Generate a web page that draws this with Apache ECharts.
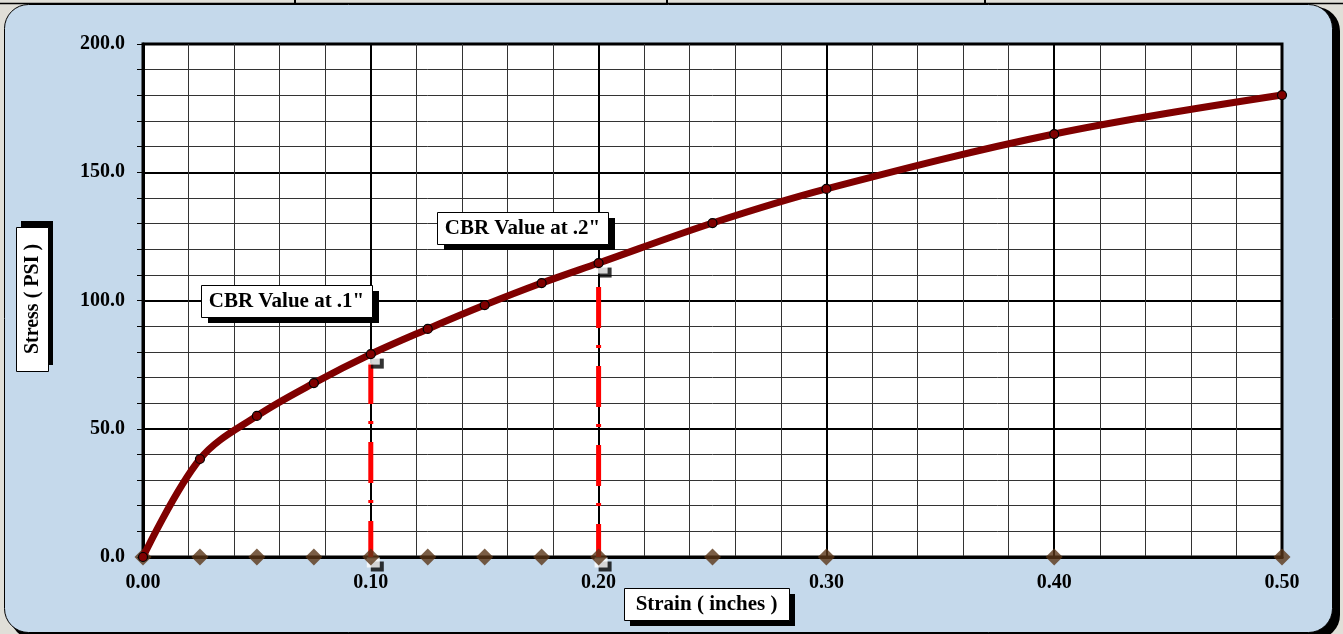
<!DOCTYPE html>
<html>
<head>
<meta charset="utf-8">
<script src="https://cdn.jsdelivr.net/npm/echarts@6/dist/echarts.min.js"></script>
<style>html,body{margin:0;padding:0;background:#e0dfd8;}#chart{width:1343px;height:634px;}</style>
</head>
<body>
<div id="chart"></div>
<script>
// ---- data ----
const strain = [0, 0.025, 0.05, 0.075, 0.1, 0.125, 0.15, 0.175, 0.2, 0.25, 0.3, 0.4, 0.5];
const stress = [0, 38.2, 55.0, 67.8, 79.1, 88.9, 98.2, 106.8, 114.6, 130.2, 143.5, 164.9, 180.1];
const baseX = [0, 0.025, 0.05, 0.075, 0.1, 0.125, 0.15, 0.175, 0.2, 0.25, 0.3, 0.4, 0.5];
const baseY = [0, 0, 0, 0, 0, 0, 0, 0, 0, 0, 0, 0, 0];
const cbrStrain = [0.1, 0.2];
const cbrStress = [79.1, 114.6];
const xTitle = 'Strain ( inches )';
const yTitle = 'Stress ( PSI )';
const cbrLabels = ['CBR Value at .1"', 'CBR Value at .2"'];

const FONT = 'Liberation Serif';
const curveData = strain.map((x, i) => [x, stress[i]]);
const baseData = baseX.map((x, i) => [x, baseY[i]]);
const boxPts = [];
cbrStrain.forEach((x, i) => { boxPts.push([x, cbrStress[i]]); boxPts.push([x, 0]); });

function labelBox(x, y, w, h, sx, sy, text, rot, fs) {
  return [
    {type: 'rect', shape: {x: x + sx, y: y + sy, width: w, height: h}, style: {fill: '#000'}, z: 100},
    {type: 'rect', shape: {x: x + 0.5, y: y + 0.5, width: w, height: h}, style: {fill: '#fff', stroke: '#000', lineWidth: 1}, z: 101},
    {type: 'text', x: x + w / 2 + (rot ? 1 : 0), y: y + h / 2 + (rot ? 0 : 1), rotation: rot || 0, z: 102,
      style: {text: text, fill: '#000', fontSize: fs, fontWeight: 'bold', fontFamily: FONT, align: 'center', verticalAlign: 'middle'}}
  ];
}

const chart = echarts.init(document.getElementById('chart'));
const redLines = cbrStrain.map((x, i) => ({
  type: 'line', data: [[x, cbrStress[i]], [x, 0]], symbol: 'none', z: 3, silent: true,
  lineStyle: {color: '#ff0000', width: 5, type: [41, 17, 3, 18], dashOffset: i === 0 ? 70 : 55, cap: 'butt'}
}));

chart.setOption({
  backgroundColor: '#e0dfd8',
  animation: false,
  graphic: [
    {type: 'line', shape: {x1: 0, y1: 3.5, x2: 1343, y2: 3.5}, style: {stroke: '#000', lineWidth: 1.5}, z: -100},
    {type: 'line', shape: {x1: 295, y1: 0, x2: 295, y2: 4}, style: {stroke: '#000', lineWidth: 2}, z: -100},
    {type: 'line', shape: {x1: 667, y1: 0, x2: 667, y2: 4}, style: {stroke: '#000', lineWidth: 2}, z: -100},
    {type: 'line', shape: {x1: 985, y1: 0, x2: 985, y2: 4}, style: {stroke: '#000', lineWidth: 2}, z: -100},
    {type: 'rect', shape: {x: 10, y: 7, width: 1330, height: 632, r: 24}, style: {fill: '#000'}, z: -99},
    {type: 'rect', shape: {x: 4.5, y: 4.5, width: 1328, height: 628, r: 24}, style: {fill: '#c5d9eb', stroke: '#000', lineWidth: 1}, z: -98},
    ...labelBox(624, 588, 165, 32, 6, 6, xTitle, 0, 21),
    ...labelBox(16, 227, 32, 144, 5, -6, yTitle, Math.PI / 2, 20),
    ...labelBox(201, 285, 171, 32, 7, 6, cbrLabels[0], 0, 21),
    ...labelBox(437, 212, 171, 32, 7, 6, cbrLabels[1], 0, 21)
  ],
  grid: {left: 143, right: 61, top: 44, bottom: 77, show: true, backgroundColor: '#fff', borderColor: '#000', borderWidth: 3},
  xAxis: {
    type: 'value', min: 0, max: 0.5, interval: 0.1,
    axisLine: {show: true, onZero: false, lineStyle: {color: '#000', width: 3}},
    axisTick: {show: false},
    minorTick: {show: false, splitNumber: 5},
    minorSplitLine: {show: true, lineStyle: {color: '#333', width: 1}},
    splitLine: {show: true, lineStyle: {color: '#000', width: 2}},
    axisLabel: {formatter: v => v.toFixed(2), margin: 16, color: '#000', fontFamily: FONT, fontWeight: 'bold', fontSize: 20}
  },
  yAxis: {
    type: 'value', min: 0, max: 200, interval: 50,
    axisLine: {show: true, lineStyle: {color: '#000', width: 3}},
    axisTick: {show: true, inside: false, length: 6, lineStyle: {color: '#000', width: 1}},
    minorTick: {show: true, splitNumber: 5, length: 6, lineStyle: {color: '#000', width: 1}},
    minorSplitLine: {show: true, lineStyle: {color: '#333', width: 1}},
    splitLine: {show: true, lineStyle: {color: '#000', width: 2}},
    axisLabel: {formatter: v => v.toFixed(1), margin: 18, color: '#000', fontFamily: FONT, fontWeight: 'bold', fontSize: 20}
  },
  series: [
    ...redLines,
    {type: 'scatter', data: boxPts, symbol: 'rect', symbolSize: [13, 10], symbolOffset: [6.5, 9.5], z: 4, silent: true,
      itemStyle: {color: '#000'}},
    {type: 'scatter', data: boxPts, symbol: 'rect', symbolSize: [13, 10], symbolOffset: [2.5, 5.5], z: 4, silent: true,
      itemStyle: {color: '#fff'}},
    {type: 'scatter', data: baseData, symbol: 'diamond', symbolSize: 17, z: 5, silent: true,
      itemStyle: {color: '#5a3618'}},
    {type: 'line', data: curveData, smooth: 0.35, symbol: 'circle', symbolSize: 9, z: 6, silent: true,
      lineStyle: {color: '#800000', width: 7},
      itemStyle: {color: '#800000', borderColor: '#000', borderWidth: 1.2}}
  ]
});
</script>
</body>
</html>
